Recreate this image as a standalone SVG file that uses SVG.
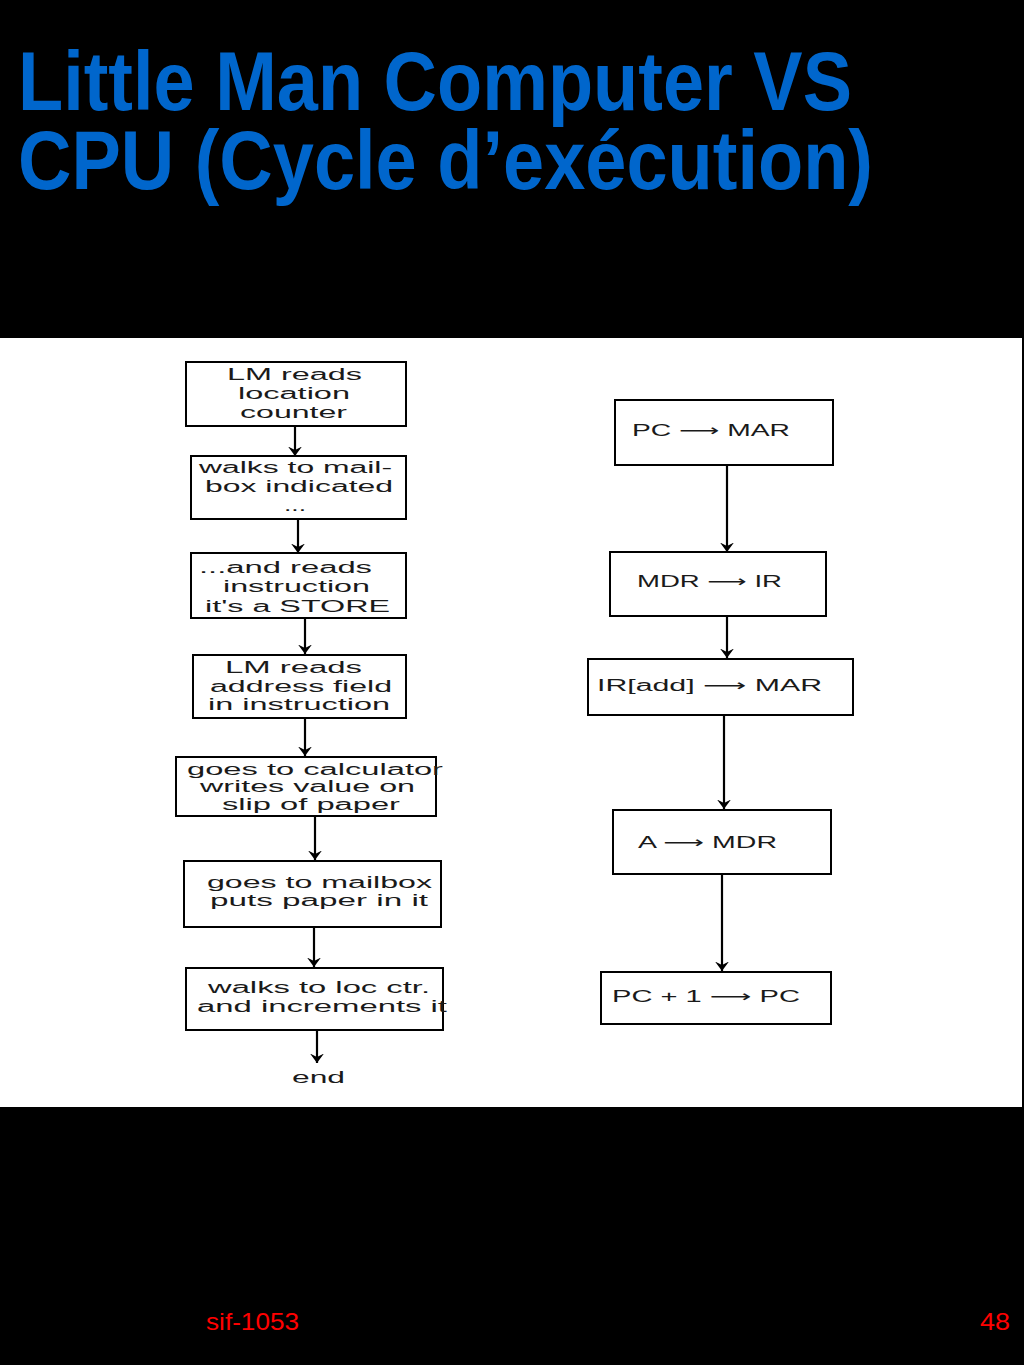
<svg xmlns="http://www.w3.org/2000/svg" width="1024" height="1365" viewBox="0 0 1024 1365">
<defs>
<marker id="ah" viewBox="0 -8 10 16" refX="9.5" refY="0" markerWidth="10" markerHeight="16" markerUnits="userSpaceOnUse" orient="auto">
<path d="M0,-7 L9.5,0 L0,7 L3.5,0 Z" fill="#000"/>
</marker>
<style>
.bg{fill:#000}
.panel{fill:#fff}
.title{font-family:"Liberation Sans",Arial,sans-serif;font-weight:bold;font-size:84px;fill:#0066CC}
.foot{font-family:"Liberation Sans",Arial,sans-serif;font-size:24px;fill:#FF0000}
.box{fill:#fff;stroke:#000;stroke-width:2}
.t{font-family:"Liberation Sans",Arial,sans-serif;font-size:16px;fill:#1a1a1a}
.ar{font-family:"DejaVu Sans",sans-serif}
.c{stroke:#000;stroke-width:2.2;fill:none;marker-end:url(#ah)}
</style>
</defs>
<rect class="bg" x="0" y="0" width="1024" height="1365"/>
<rect class="panel" x="0" y="338" width="1022" height="769"/>
<g id="title">
<text class="title" x="18" y="110" textLength="834" lengthAdjust="spacingAndGlyphs">Little Man Computer VS</text>
<text class="title" x="18" y="189" textLength="855" lengthAdjust="spacingAndGlyphs">CPU (Cycle d’exécution)</text>
</g>
<g id="connectors">
<line class="c" x1="295" y1="426" x2="295" y2="456"/>
<line class="c" x1="298" y1="520" x2="298" y2="553"/>
<line class="c" x1="305" y1="618" x2="305" y2="654"/>
<line class="c" x1="305" y1="718" x2="305" y2="756"/>
<line class="c" x1="315" y1="817" x2="315" y2="860"/>
<line class="c" x1="314" y1="927" x2="314" y2="967"/>
<line class="c" x1="317" y1="1030" x2="317" y2="1063"/>
<line class="c" x1="727" y1="465" x2="727" y2="552"/>
<line class="c" x1="727" y1="616" x2="727" y2="658"/>
<line class="c" x1="724" y1="715" x2="724" y2="809"/>
<line class="c" x1="722" y1="874" x2="722" y2="971"/>
</g>
<g id="lm1">
<rect class="box" x="186" y="362" width="220" height="64"/>
<text class="t" x="227" y="380" textLength="135" lengthAdjust="spacingAndGlyphs">LM reads</text>
<text class="t" x="238" y="399" textLength="112" lengthAdjust="spacingAndGlyphs">location</text>
<text class="t" x="240" y="418" textLength="107" lengthAdjust="spacingAndGlyphs">counter</text>
</g>
<g id="lm2">
<rect class="box" x="191" y="456" width="215" height="63"/>
<text class="t" x="199" y="473" textLength="193" lengthAdjust="spacingAndGlyphs">walks to mail-</text>
<text class="t" x="205" y="492" textLength="188" lengthAdjust="spacingAndGlyphs">box indicated</text>
<text class="t" x="284" y="511" textLength="22" lengthAdjust="spacingAndGlyphs">...</text>
</g>
<g id="lm3">
<rect class="box" x="191" y="553" width="215" height="65"/>
<text class="t" x="199" y="573" textLength="173" lengthAdjust="spacingAndGlyphs">...and reads</text>
<text class="t" x="223" y="592" textLength="147" lengthAdjust="spacingAndGlyphs">instruction</text>
<text class="t" x="205" y="612" textLength="185" lengthAdjust="spacingAndGlyphs">it's a STORE</text>
</g>
<g id="lm4">
<rect class="box" x="193" y="655" width="213" height="63"/>
<text class="t" x="225" y="673" textLength="137" lengthAdjust="spacingAndGlyphs">LM reads</text>
<text class="t" x="210" y="692" textLength="182" lengthAdjust="spacingAndGlyphs">address field</text>
<text class="t" x="208" y="710" textLength="182" lengthAdjust="spacingAndGlyphs">in instruction</text>
</g>
<g id="lm5">
<rect class="box" x="176" y="757" width="260" height="59"/>
<text class="t" x="187" y="775" textLength="256" lengthAdjust="spacingAndGlyphs">goes to calculator</text>
<text class="t" x="200" y="792" textLength="215" lengthAdjust="spacingAndGlyphs">writes value on</text>
<text class="t" x="222" y="810" textLength="178" lengthAdjust="spacingAndGlyphs">slip of paper</text>
</g>
<g id="lm6">
<rect class="box" x="184" y="861" width="257" height="66"/>
<text class="t" x="207" y="888" textLength="225" lengthAdjust="spacingAndGlyphs">goes to mailbox</text>
<text class="t" x="210" y="906" textLength="218" lengthAdjust="spacingAndGlyphs">puts paper in it</text>
</g>
<g id="lm7">
<rect class="box" x="186" y="968" width="257" height="62"/>
<text class="t" x="208" y="993" textLength="222" lengthAdjust="spacingAndGlyphs">walks to loc ctr.</text>
<text class="t" x="197" y="1012" textLength="250" lengthAdjust="spacingAndGlyphs">and increments it</text>
</g>
<g id="lm-end">
<text class="t" x="292" y="1083" textLength="53" lengthAdjust="spacingAndGlyphs">end</text>
</g>
<g id="cpu1">
<rect class="box" x="615" y="400" width="218" height="65"/>
<text class="t" x="632" y="436" textLength="158" lengthAdjust="spacingAndGlyphs">PC <tspan class="ar">⟶</tspan> MAR</text>
</g>
<g id="cpu2">
<rect class="box" x="610" y="552" width="216" height="64"/>
<text class="t" x="637" y="587" textLength="145" lengthAdjust="spacingAndGlyphs">MDR <tspan class="ar">⟶</tspan> IR</text>
</g>
<g id="cpu3">
<rect class="box" x="588" y="659" width="265" height="56"/>
<text class="t" x="597" y="691" textLength="225" lengthAdjust="spacingAndGlyphs">IR[add]  <tspan class="ar">⟶</tspan> MAR</text>
</g>
<g id="cpu4">
<rect class="box" x="613" y="810" width="218" height="64"/>
<text class="t" x="638" y="848" textLength="139" lengthAdjust="spacingAndGlyphs">A <tspan class="ar">⟶</tspan> MDR</text>
</g>
<g id="cpu5">
<rect class="box" x="601" y="972" width="230" height="52"/>
<text class="t" x="612" y="1002" textLength="188" lengthAdjust="spacingAndGlyphs">PC + 1 <tspan class="ar">⟶</tspan> PC</text>
</g>
<g id="footer">
<text class="foot" x="206" y="1330" textLength="93" lengthAdjust="spacingAndGlyphs">sif-1053</text>
<text class="foot" x="980" y="1330" textLength="30" lengthAdjust="spacingAndGlyphs">48</text>
</g>
</svg>
